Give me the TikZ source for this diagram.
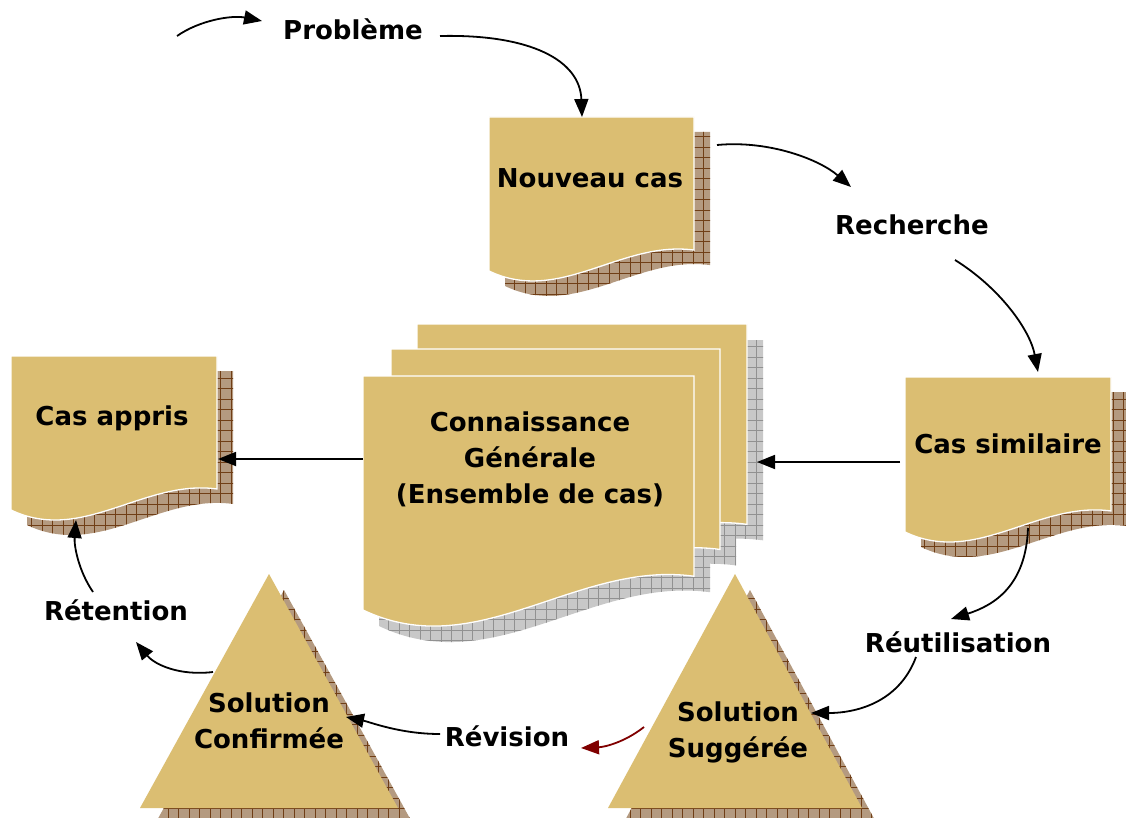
\documentclass[tikz,border=0pt]{standalone}
\usepackage{fontspec}
\setmainfont{DejaVu Sans}
\usetikzlibrary{arrows.meta}
\definecolor{tanfill}{RGB}{219,190,114}
\definecolor{brownfill}{RGB}{180,154,128}
\definecolor{browngrid}{RGB}{112,62,22}
\definecolor{grayfill}{RGB}{200,200,200}
\definecolor{graygrid}{RGB}{145,145,145}
\definecolor{darkred}{RGB}{128,0,0}
% document page: x, y, w, h(left edge)
\newcommand\docpage[4]{%
  \filldraw[fill=tanfill,draw=white,line width=1.3pt] (#1,#2) -- ({#1+#3},#2) -- ({#1+#3},{#2+#4-0.102*#3}) .. controls ({#1+0.644*#3},{#2+#4-0.151*#3}) and ({#1+0.346*#3},{#2+#4+0.166*#3}) .. (#1,{#2+#4}) -- cycle;}
\newcommand\docshadow[6]{%
  \begin{scope}
    \clip (#1,#2) -- ({#1+#3},#2) -- ({#1+#3},{#2+#4-0.102*#3}) .. controls ({#1+0.644*#3},{#2+#4-0.151*#3}) and ({#1+0.346*#3},{#2+#4+0.166*#3}) .. (#1,{#2+#4}) -- cycle;
    \fill[#5] ({#1-5},{#2-5}) rectangle ({#1+#3+5},{#2+#4+0.25*#3});
    \draw[#6,line width=0.8pt,step=10.5pt] ({#1-5},{#2-5}) grid ({#1+#3+5},{#2+#4+0.25*#3});
  \end{scope}}
\newcommand\trishadow[4]{% apex x, apex y, half width, height
  \begin{scope}
    \clip (#1,#2) -- ({#1+#3},{#2+#4}) -- ({#1-#3},{#2+#4}) -- cycle;
    \fill[brownfill] ({#1-#3-5},{#2-5}) rectangle ({#1+#3+5},{#2+#4+5});
    \draw[browngrid,line width=0.8pt,step=10.5pt] ({#1-#3-5},{#2-5}) grid ({#1+#3+5},{#2+#4+5});
  \end{scope}}
\newcommand\tripage[4]{%
  \fill[tanfill] (#1,#2) -- ({#1+#3},{#2+#4}) -- ({#1-#3},{#2+#4}) -- cycle;}
\tikzset{
  lbl/.style={font=\bfseries\fontsize{26}{36}\selectfont, align=center, inner sep=0pt, text=black},
  conn/.style={line width=1.8pt, -{Triangle[length=18pt,width=14pt]}},
}
\begin{document}
\begin{tikzpicture}[x=1pt,y=-1pt]
\useasboundingbox (0,0) rectangle (1126,818);
\fill[white] (0,0) rectangle (1126,818);

% ---- shadows and pages ----
\docshadow{505}{132}{205}{154}{brownfill}{browngrid}
\docpage{489}{117}{205}{154}
\docshadow{27}{371}{206}{154}{brownfill}{browngrid}
\docpage{11}{356}{206}{154}
\docshadow{921}{392}{206}{155}{brownfill}{browngrid}
\docpage{905}{377}{206}{155}
% stack
\docshadow{433}{340}{330}{234}{grayfill}{graygrid}
\docshadow{407}{365}{329}{234}{grayfill}{graygrid}
\docshadow{379}{392}{331}{234}{grayfill}{graygrid}
\docpage{417}{324}{330}{234}
\docpage{391}{349}{329}{234}
\docpage{363}{376}{331}{234}
% triangles
\trishadow{750}{590}{127}{234}
\tripage{735}{574}{127}{234}
\trishadow{284}{590}{129}{234}
\tripage{269}{574}{129}{234}

% ---- labels ----
\node[lbl] (probleme) at (353,29) {Problème};
\node[lbl] (nouveau) at (590,178) {Nouveau cas};
\node[lbl] (recherche) at (912,225) {Recherche};
\node[lbl] (similaire) at (1008,444) {Cas similaire};
\node[lbl] (connaissance) at (530,459) {Connaissance\\Générale\\(Ensemble de cas)};
\node[lbl] (appris) at (112,418) {Cas appris};
\node[lbl] (retention) at (116,610) {Rétention};
\node[lbl] (reutilisation) at (958,642) {Réutilisation};
\node[lbl] (suggeree) at (738,732) {Solution\\Suggérée};
\node[lbl] (confirmee) at (269,721) {Solution\\Confirmée};
\node[lbl] (revision) at (507,736) {Révision};

% ---- connector end points ----
\coordinate (a1s) at (177,36);   \coordinate (a1e) at (262,21);
\coordinate (a2s) at (440,36);   \coordinate (a2e) at (582,117);
\coordinate (a3s) at (717,145);  \coordinate (a3e) at (851,187);
\coordinate (a4s) at (955,260);  \coordinate (a4e) at (1038,372);
\coordinate (a5s) at (900,462);  \coordinate (a5e) at (757,462);
\coordinate (a6s) at (363,459);  \coordinate (a6e) at (218,459);
\coordinate (a7s) at (1028,528); \coordinate (a7e) at (951,619);
\coordinate (a8s) at (916,657);  \coordinate (a8e) at (811,713);
\coordinate (a9s) at (644,727);  \coordinate (a9e) at (581,748);
\coordinate (a10s) at (440,734); \coordinate (a10e) at (346,717);
\coordinate (a11s) at (213,672); \coordinate (a11e) at (136,642);
\coordinate (a12s) at (93,592);  \coordinate (a12e) at (76,520);

% ---- connectors ----
\draw[conn] (a1s) .. controls (200,20) and (232,15) .. (a1e);
\draw[conn] (a2s) .. controls (530,34) and (580,60) .. (a2e);
\draw[conn] (a3s) .. controls (770,140) and (820,160) .. (a3e);
\draw[conn] (a4s) .. controls (1000,288) and (1030,330) .. (a4e);
\draw[conn] (a5s) -- (a5e);
\draw[conn] (a6s) -- (a6e);
\draw[conn] (a7s) .. controls (1026,585) and (995,605) .. (a7e);
\draw[conn] (a8s) .. controls (900,700) and (860,713) .. (a8e);
\draw[conn,darkred] (a9s) .. controls (625,742) and (605,747) .. (a9e);
\draw[conn] (a10s) .. controls (400,734) and (370,722) .. (a10e);
\draw[conn] (a11s) .. controls (180,676) and (155,665) .. (a11e);
\draw[conn] (a12s) .. controls (78,570) and (74,545) .. (a12e);
\end{tikzpicture}
\end{document}
